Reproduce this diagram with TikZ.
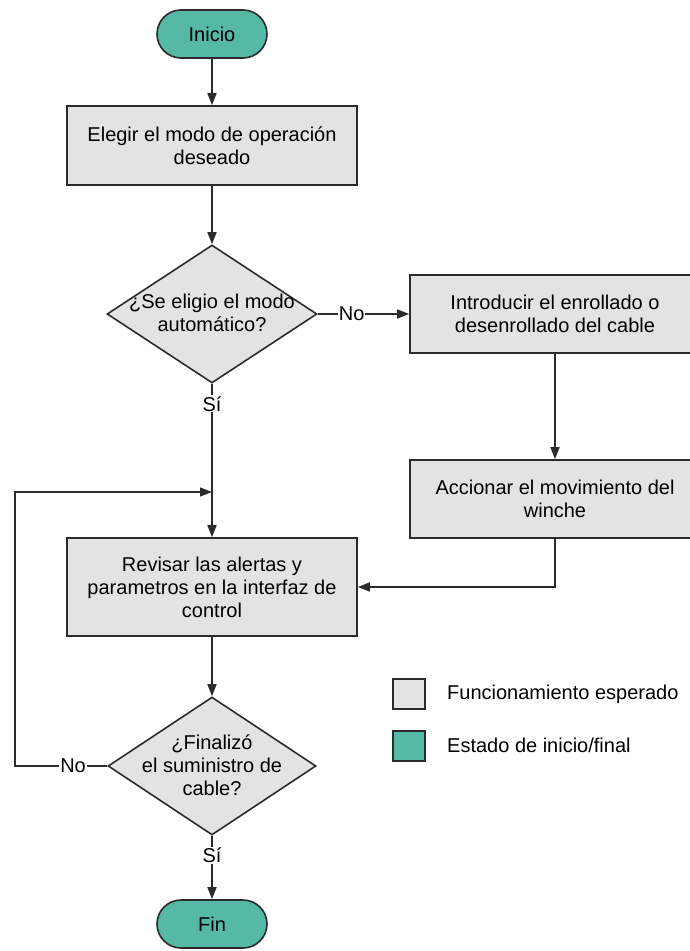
\documentclass[tikz,border=0pt]{standalone}
\usepackage{fontspec}
\setmainfont{Liberation Sans}
\usetikzlibrary{shapes.geometric,shapes.misc,arrows.meta}
\definecolor{tealfill}{HTML}{55B9A5}
\definecolor{grayfill}{HTML}{E3E3E3}
\definecolor{edgecol}{HTML}{2B2B2B}
\begin{document}
\begin{tikzpicture}[x=1pt,y=-1pt,
  font=\fontsize{20}{23}\selectfont,
  procbox/.style={draw=edgecol,fill=grayfill,line width=1.6pt,minimum width=290pt,align=center,inner sep=0pt},
  termnode/.style={rounded rectangle,draw=edgecol,fill=tealfill,line width=1.6pt,minimum width=110pt,minimum height=48pt,inner sep=0pt},
  dia/.style={diamond,draw=edgecol,fill=grayfill,line width=1.6pt,minimum width=210pt,minimum height=138pt,inner sep=0pt},
  txt/.style={align=center,inner sep=0pt},
  conn/.style={draw=edgecol,line width=1.6pt},
  arr/.style={conn,-{Triangle[length=12pt,width=9pt]}},
  lbl/.style={fill=white,inner sep=1pt},
  legbox/.style={draw=edgecol,line width=1.4pt,minimum width=32pt,minimum height=30pt,inner sep=0pt}
]
\useasboundingbox (0,0) rectangle (690,951);
\clip (0,0) rectangle (690,951);
\fill[white] (0,0) rectangle (690,951);

\node[termnode] (ini) at (212,34) {Inicio};
\node[procbox, minimum height=79pt] (b1) at (212,145.5) {Elegir el modo de operación\\deseado};
\node[dia] (d1) at (212,314) {};
\node[txt] (t1) at (212,313) {¿Se eligio el modo\\automático?};
\node[procbox, minimum height=78pt] (b2) at (555,314) {Introducir el enrollado o\\desenrollado del cable};
\node[procbox, minimum height=78pt] (b3) at (555,499) {Accionar el movimiento del\\winche};
\node[procbox, minimum height=98pt] (b4) at (212,587) {Revisar las alertas y\\parametros en la interfaz de\\control};
\node[dia, minimum width=208pt] (d2) at (212,766) {};
\node[txt] (t2) at (212,765) {¿Finalizó\\el suministro de\\cable?};
\node[termnode] (fin) at (212,924) {Fin};

\coordinate (mj) at (212,492);
\coordinate (lb) at (15,766);
\coordinate (lt) at (15,492);

\draw[arr] (ini) -- (b1);
\draw[arr] (b1) -- (d1);
\draw[arr] (d1.east) -- node[lbl,pos=0.37]{No} (b2.west);
\draw[arr] (d1.south) -- node[lbl,pos=0.13]{Sí} (b4.north);
\draw[arr] (b2) -- (b3);
\draw[arr] (b3.south) |- (b4.east);
\draw[arr] (d2.west) -- node[lbl,pos=0.37]{No} (lb) -- (lt) -- (mj);
\draw[arr] (b4) -- (d2);
\draw[arr] (d2.south) -- node[lbl,pos=0.31]{Sí} (fin);

\node[legbox,fill=grayfill] (lg1) at (409,694) {};
\node[anchor=west,inner sep=0pt] (lt1) at (447,694) {Funcionamiento esperado};
\node[legbox,fill=tealfill] (lg2) at (409,746) {};
\node[anchor=west,inner sep=0pt] (lt2) at (447,745) {Estado de inicio/final};
\end{tikzpicture}
\end{document}
